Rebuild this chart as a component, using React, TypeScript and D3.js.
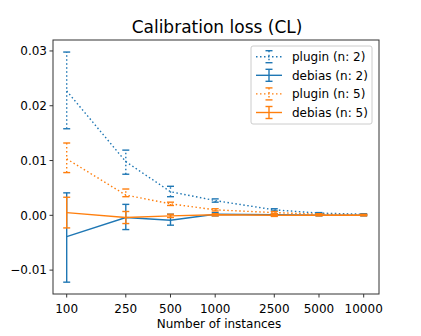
import React from "react";
import * as d3 from "d3";

const sizes = [100, 250, 500, 1000, 2500, 5000, 10000];
const xTickLabels = ["100", "250", "500", "1000", "2500", "5000", "10000"];
const yTicks = [-0.01, 0.0, 0.01, 0.02, 0.03];
const yTickLabels = ["\u22120.01", "0.00", "0.01", "0.02", "0.03"];

const pluginN2 = [0.0227, 0.0098, 0.0043, 0.0027, 0.001, 0.0004, 0.0002];
const pluginN2Lo = [0.0158, 0.0075, 0.0034, 0.0024, 0.0008, 0.0003, 0.0001];
const pluginN2Hi = [0.0298, 0.0119, 0.0053, 0.003, 0.0012, 0.0005, 0.0003];

const debiasN2 = [-0.0039, -0.0004, -0.0009, 0.0002, 0.0001, 0.0, 0.0];
const debiasN2Lo = [-0.0122, -0.0026, -0.0018, -0.0001, -0.0001, -0.0001, -0.0001];
const debiasN2Hi = [0.0041, 0.002, 0.0002, 0.0005, 0.0003, 0.0001, 0.0001];

const pluginN5 = [0.0103, 0.0037, 0.0021, 0.001, 0.0005, 0.0002, 0.0001];
const pluginN5Lo = [0.0078, 0.0034, 0.0018, 0.0008, 0.0003, 0.0001, 0.0];
const pluginN5Hi = [0.0132, 0.0048, 0.0024, 0.0012, 0.0007, 0.0003, 0.0002];

const debiasN5 = [0.0005, -0.0004, -0.0001, 0.0001, 0.0, 0.0, 0.0];
const debiasN5Lo = [-0.0023, -0.0015, -0.0004, -0.0001, -0.0002, -0.0001, -0.0001];
const debiasN5Hi = [0.0033, 0.0007, 0.0002, 0.0003, 0.0002, 0.0001, 0.0001];

const seriesNames = ["plugin (n: 2)", "debias (n: 2)", "plugin (n: 5)", "debias (n: 5)"];

const BLUE = "#1f77b4";
const ORANGE = "#ff7f0e";
const FONT = "'DejaVu Sans', sans-serif";

export default function App() {
  const W = 421, H = 336;
  const L = 53, R = 379, T = 40, B = 294;
  const x = d3.scaleLog().domain([100 / Math.pow(10, 13.7 / 148.5), 10000 * Math.pow(10, 15.3 / 148.5)]).range([L, R]);
  const y = d3.scaleLinear().domain([-0.01436, 0.0320]).range([B, T]);

  const series = [
    { name: seriesNames[0], v: pluginN2, lo: pluginN2Lo, hi: pluginN2Hi, color: BLUE, dotted: true },
    { name: seriesNames[1], v: debiasN2, lo: debiasN2Lo, hi: debiasN2Hi, color: BLUE, dotted: false },
    { name: seriesNames[2], v: pluginN5, lo: pluginN5Lo, hi: pluginN5Hi, color: ORANGE, dotted: true },
    { name: seriesNames[3], v: debiasN5, lo: debiasN5Lo, hi: debiasN5Hi, color: ORANGE, dotted: false },
  ];

  const line = d3.line<number>().x((_, i) => x(sizes[i])).y((d) => y(d));
  const dash = "1.5 2.5";
  const cap = 3.5;
  const lw = 1.4;
  const fs = 12;

  return (
    <svg width={W} height={H} style={{ display: "block", position: "absolute", left: 0, top: 0 }} fontFamily={FONT}>
      <rect x={0} y={0} width={W} height={H} fill="#fff" />
      <text x={(L + R) / 2 + 1} y={33} textAnchor="middle" fontSize={17} fill="#000">Calibration loss (CL)</text>
      <defs>
        <clipPath id="plot"><rect x={L} y={T} width={R - L} height={B - T} /></clipPath>
      </defs>
      <g clipPath="url(#plot)">
        {series.map((s, si) => (
          <g key={si}>
            <path d={line(s.v) || ""} fill="none" stroke={s.color} strokeWidth={lw} strokeDasharray={s.dotted ? dash : undefined} />
            {sizes.map((n, i) => (
              <g key={i}>
                <line x1={x(n)} x2={x(n)} y1={y(s.lo[i])} y2={y(s.hi[i])} stroke={s.color} strokeWidth={lw} strokeDasharray={s.dotted ? dash : undefined} />
                <line x1={x(n) - cap} x2={x(n) + cap} y1={y(s.lo[i])} y2={y(s.lo[i])} stroke={s.color} strokeWidth={lw} />
                <line x1={x(n) - cap} x2={x(n) + cap} y1={y(s.hi[i])} y2={y(s.hi[i])} stroke={s.color} strokeWidth={lw} />
              </g>
            ))}
          </g>
        ))}
      </g>
      <rect x={L} y={T} width={R - L} height={B - T} fill="none" stroke="#333" strokeWidth={1} />
      {yTicks.map((t, i) => (
        <g key={i}>
          <line x1={L - 3.5} x2={L} y1={y(t)} y2={y(t)} stroke="#333" strokeWidth={1} />
          <text x={L - 6} y={y(t)} dy="0.36em" textAnchor="end" fontSize={fs} fill="#000">{yTickLabels[i]}</text>
        </g>
      ))}
      {sizes.map((n, i) => (
        <g key={i}>
          <line x1={x(n)} x2={x(n)} y1={B} y2={B + 3.5} stroke="#333" strokeWidth={1} />
          <text x={x(n)} y={312.5} textAnchor="middle" fontSize={fs} fill="#000">{xTickLabels[i]}</text>
        </g>
      ))}
      <text x={(L + R) / 2 + 3} y={328} textAnchor="middle" fontSize={fs} fill="#000">Number of instances</text>
      <rect x={251} y={46} width={121} height={78} rx={2} fill="#fff" fillOpacity={0.8} stroke="#ccc" strokeWidth={1} />
      {series.map((s, i) => {
        const cy = 56.7 + i * 18.6;
        const x0 = 256, x1 = 282, xm = (x0 + x1) / 2;
        return (
          <g key={i}>
            <line x1={x0} x2={x1} y1={cy} y2={cy} stroke={s.color} strokeWidth={lw} strokeDasharray={s.dotted ? dash : undefined} />
            <line x1={xm} x2={xm} y1={cy - 6} y2={cy + 6} stroke={s.color} strokeWidth={lw} strokeDasharray={s.dotted ? dash : undefined} />
            <line x1={xm - cap} x2={xm + cap} y1={cy - 6} y2={cy - 6} stroke={s.color} strokeWidth={lw} />
            <line x1={xm - cap} x2={xm + cap} y1={cy + 6} y2={cy + 6} stroke={s.color} strokeWidth={lw} />
            <text x={292} y={cy} dy="0.36em" fontSize={fs} fill="#000">{s.name}</text>
          </g>
        );
      })}
    </svg>
  );
}
